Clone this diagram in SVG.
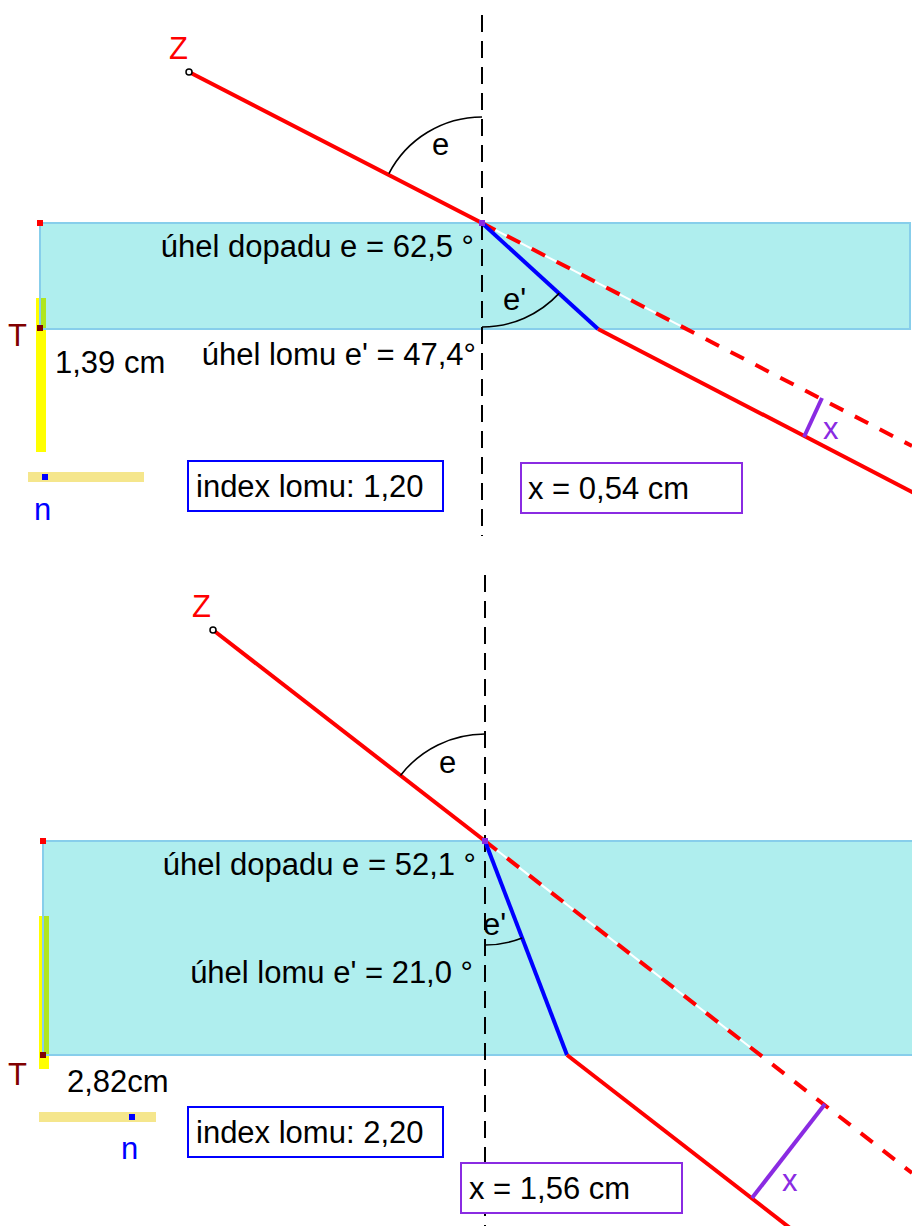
<svg xmlns="http://www.w3.org/2000/svg" width="912" height="1226" viewBox="0 0 912 1226">
<style>
text{font-family:"Liberation Sans",Arial,sans-serif;font-size:31px;fill:#000}
.slab{fill:#AFEEEE;stroke:#87CEEB;stroke-width:2}
.norm{stroke:#000;stroke-width:2;stroke-dasharray:17 9;fill:none}
.ray{stroke:#FF0000;stroke-width:4;fill:none;stroke-linecap:butt}
.ext{stroke:#FF0000;stroke-width:4;stroke-dasharray:15 13;fill:none}
.extw{stroke:#FFFFFF;stroke-width:2;fill:none}
.refr{stroke:#0000FF;stroke-width:4;fill:none}
.arc{stroke:#000;stroke-width:1.6;fill:none}
.xseg{stroke:#8A2BE2;stroke-width:4;fill:none}
.red{fill:#FF0000}
.dred{fill:#800000}
.blue{fill:#0000FF}
.purple{fill:#8A2BE2}
.yellow{fill:#FFFF00}
.green{fill:#B0E61E}
.khaki{fill:#F5E68C}
.boxb{fill:#FFFFFF;stroke:#0000FF;stroke-width:2}
.boxp{fill:#FFFFFF;stroke:#8A2BE2;stroke-width:2}
</style>

<!-- TOP PANEL -->
<g id="top-slab">
<rect class="yellow" x="36" y="298" width="10" height="154"/>
<rect class="slab" x="40" y="223" width="870" height="106"/>
<rect class="green" x="41" y="298" width="5" height="30"/>
<rect class="red" x="37" y="220" width="6" height="6"/>
<rect class="dred" x="37" y="325" width="6" height="6"/>
<text x="8" y="346" style="fill:#800000">T</text>
<text x="55" y="373">1,39 cm</text>
</g>
<g id="top-slider">
<rect class="khaki" x="28" y="472" width="116" height="10"/>
<rect class="blue" x="42" y="474" width="6" height="6"/>
<text x="34" y="520" style="fill:#0000FF">n</text>
</g>
<g id="top-connectors">
<line class="norm" x1="482" y1="15" x2="482" y2="536"/>
<line class="ray" x1="189" y1="72" x2="482" y2="223"/>
<line class="extw" x1="482" y1="223" x2="912" y2="446"/>
<line class="ext" x1="482" y1="223" x2="912" y2="446"/>
<line class="refr" x1="482" y1="223" x2="598" y2="329"/>
<line class="ray" x1="598" y1="329" x2="914" y2="493"/>
<line class="xseg" x1="804" y1="437" x2="822" y2="398"/>
<path class="arc" d="M482,117 A105,105 0 0 0 388.9,173.6"/>
<path class="arc" d="M482,327 A105,105 0 0 0 559.3,293.1"/>
</g>
<g id="top-points">
<circle cx="189" cy="72" r="3" fill="#fff" stroke="#000" stroke-width="1.5"/>
<rect class="purple" x="479" y="220" width="6" height="6"/>
<text x="169" y="59" style="fill:#FF0000">Z</text>
<text x="432" y="155">e</text>
<text x="503" y="310">e'</text>
<text x="823" y="439" style="fill:#8A2BE2">x</text>
</g>
<g id="top-labels">
<text x="474" y="257" text-anchor="end">úhel dopadu e = 62,5 °</text>
<text x="476" y="365" text-anchor="end">úhel lomu e' = 47,4°</text>
</g>
<g id="top-index">
<rect class="boxb" x="188" y="461" width="255" height="50"/>
<text x="196" y="497">index lomu: 1,20</text>
</g>
<g id="top-x">
<rect class="boxp" x="521" y="463" width="221" height="50"/>
<text x="528" y="499">x = 0,54 cm</text>
</g>

<!-- BOTTOM PANEL -->
<g id="bottom-slab">
<rect class="yellow" x="39" y="916" width="10" height="153"/>
<rect class="slab" x="43" y="841" width="870" height="214"/>
<rect class="green" x="44" y="916" width="5" height="138"/>
<rect class="red" x="40" y="838" width="6" height="6"/>
<rect class="dred" x="40" y="1052" width="6" height="6"/>
<text x="8" y="1085" style="fill:#800000">T</text>
<text x="67" y="1092">2,82cm</text>
</g>
<g id="bottom-slider">
<rect class="khaki" x="39" y="1112" width="117" height="10"/>
<rect class="blue" x="129" y="1114" width="6" height="6"/>
<text x="121" y="1159" style="fill:#0000FF">n</text>
</g>
<g id="bottom-connectors">
<line class="norm" x1="485" y1="575" x2="485" y2="1226"/>
<line class="ray" x1="213" y1="630" x2="485" y2="841"/>
<line class="extw" x1="485" y1="841" x2="912" y2="1173"/>
<line class="ext" x1="485" y1="841" x2="912" y2="1173"/>
<line class="refr" x1="485" y1="841" x2="567" y2="1055"/>
<line class="ray" x1="567" y1="1055" x2="790" y2="1228"/>
<line class="xseg" x1="752" y1="1198" x2="825" y2="1104"/>
<path class="arc" d="M485,734 A107,107 0 0 0 400.5,775.4"/>
<path class="arc" d="M485,945 A104,104 0 0 0 522.2,938.1"/>
</g>
<g id="bottom-points">
<circle cx="213" cy="630" r="3" fill="#fff" stroke="#000" stroke-width="1.5"/>
<rect class="purple" x="482" y="838" width="6" height="6"/>
<text x="192" y="617" style="fill:#FF0000">Z</text>
<text x="439" y="773">e</text>
<text x="483" y="935">e'</text>
<text x="782" y="1191" style="fill:#8A2BE2">x</text>
</g>
<g id="bottom-labels">
<text x="476" y="875" text-anchor="end">úhel dopadu e = 52,1 °</text>
<text x="473" y="983" text-anchor="end">úhel lomu e' = 21,0 °</text>
</g>
<g id="bottom-index">
<rect class="boxb" x="188" y="1107" width="255" height="50"/>
<text x="196" y="1143">index lomu: 2,20</text>
</g>
<g id="bottom-x">
<rect class="boxp" x="461" y="1163" width="221" height="50"/>
<text x="469" y="1199">x = 1,56 cm</text>
</g>
</svg>
